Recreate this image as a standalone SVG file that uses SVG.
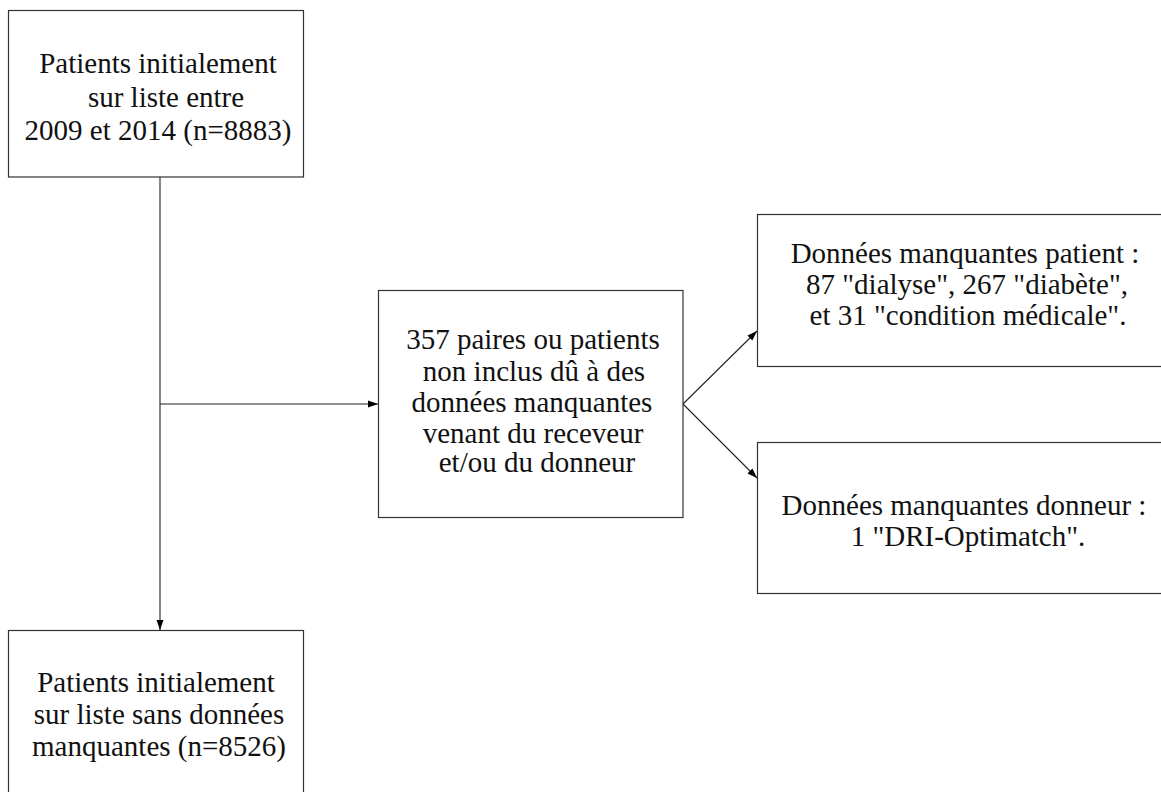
<svg xmlns="http://www.w3.org/2000/svg" width="1161" height="792" viewBox="0 0 1161 792">
<defs>
<marker id="arr" viewBox="0 0 10 10" refX="10" refY="5" markerWidth="10" markerHeight="10" markerUnits="userSpaceOnUse" orient="auto">
<path d="M0,1.5 L10,5 L0,8.5 Z" fill="#000"/>
</marker>
<style>
.box{fill:#fff;stroke:#333;stroke-width:1.2}
.t{font-family:'Liberation Serif','Times New Roman',serif;font-size:29px;fill:#111;text-anchor:middle}
.c{fill:none;stroke:#222;stroke-width:1.1}
</style>
</defs>
<rect width="1161" height="792" fill="#fff"/>
<g id="connectors">
<line class="c" x1="160" y1="177" x2="160" y2="630" marker-end="url(#arr)"/>
<line class="c" x1="160" y1="404" x2="378" y2="404" marker-end="url(#arr)"/>
<line class="c" x1="683" y1="404" x2="757" y2="331" marker-end="url(#arr)"/>
<line class="c" x1="683" y1="404" x2="757" y2="478" marker-end="url(#arr)"/>
</g>
<g id="n1">
<rect class="box" x="8.5" y="10.5" width="295" height="166.5"/>
<text class="t" x="158" y="73">Patients initialement</text>
<text class="t" x="166" y="107">sur liste entre</text>
<text class="t" x="158" y="140">2009 et 2014 (n=8883)</text>
</g>
<g id="n2">
<rect class="box" x="8.5" y="630.5" width="295" height="180"/>
<text class="t" x="156" y="692">Patients initialement</text>
<text class="t" x="159" y="724">sur liste sans données</text>
<text class="t" x="159" y="756">manquantes (n=8526)</text>
</g>
<g id="n3">
<rect class="box" x="378.5" y="290.5" width="304.5" height="227"/>
<text class="t" x="533" y="349">357 paires ou patients</text>
<text class="t" x="534" y="381">non inclus dû à des</text>
<text class="t" x="532" y="412">données manquantes</text>
<text class="t" x="533" y="443">venant du receveur</text>
<text class="t" x="537" y="472">et/ou du donneur</text>
</g>
<g id="n4">
<rect class="box" x="757.5" y="214.5" width="416" height="152"/>
<text class="t" x="965" y="263">Données manquantes patient :</text>
<text class="t" x="967" y="294">87 "dialyse", 267 "diabète",</text>
<text class="t" x="968" y="325">et 31 "condition médicale".</text>
</g>
<g id="n5">
<rect class="box" x="757.5" y="442.5" width="416" height="151"/>
<text class="t" x="964" y="515">Données manquantes donneur :</text>
<text class="t" x="968" y="546">1 "DRI-Optimatch".</text>
</g>
</svg>
